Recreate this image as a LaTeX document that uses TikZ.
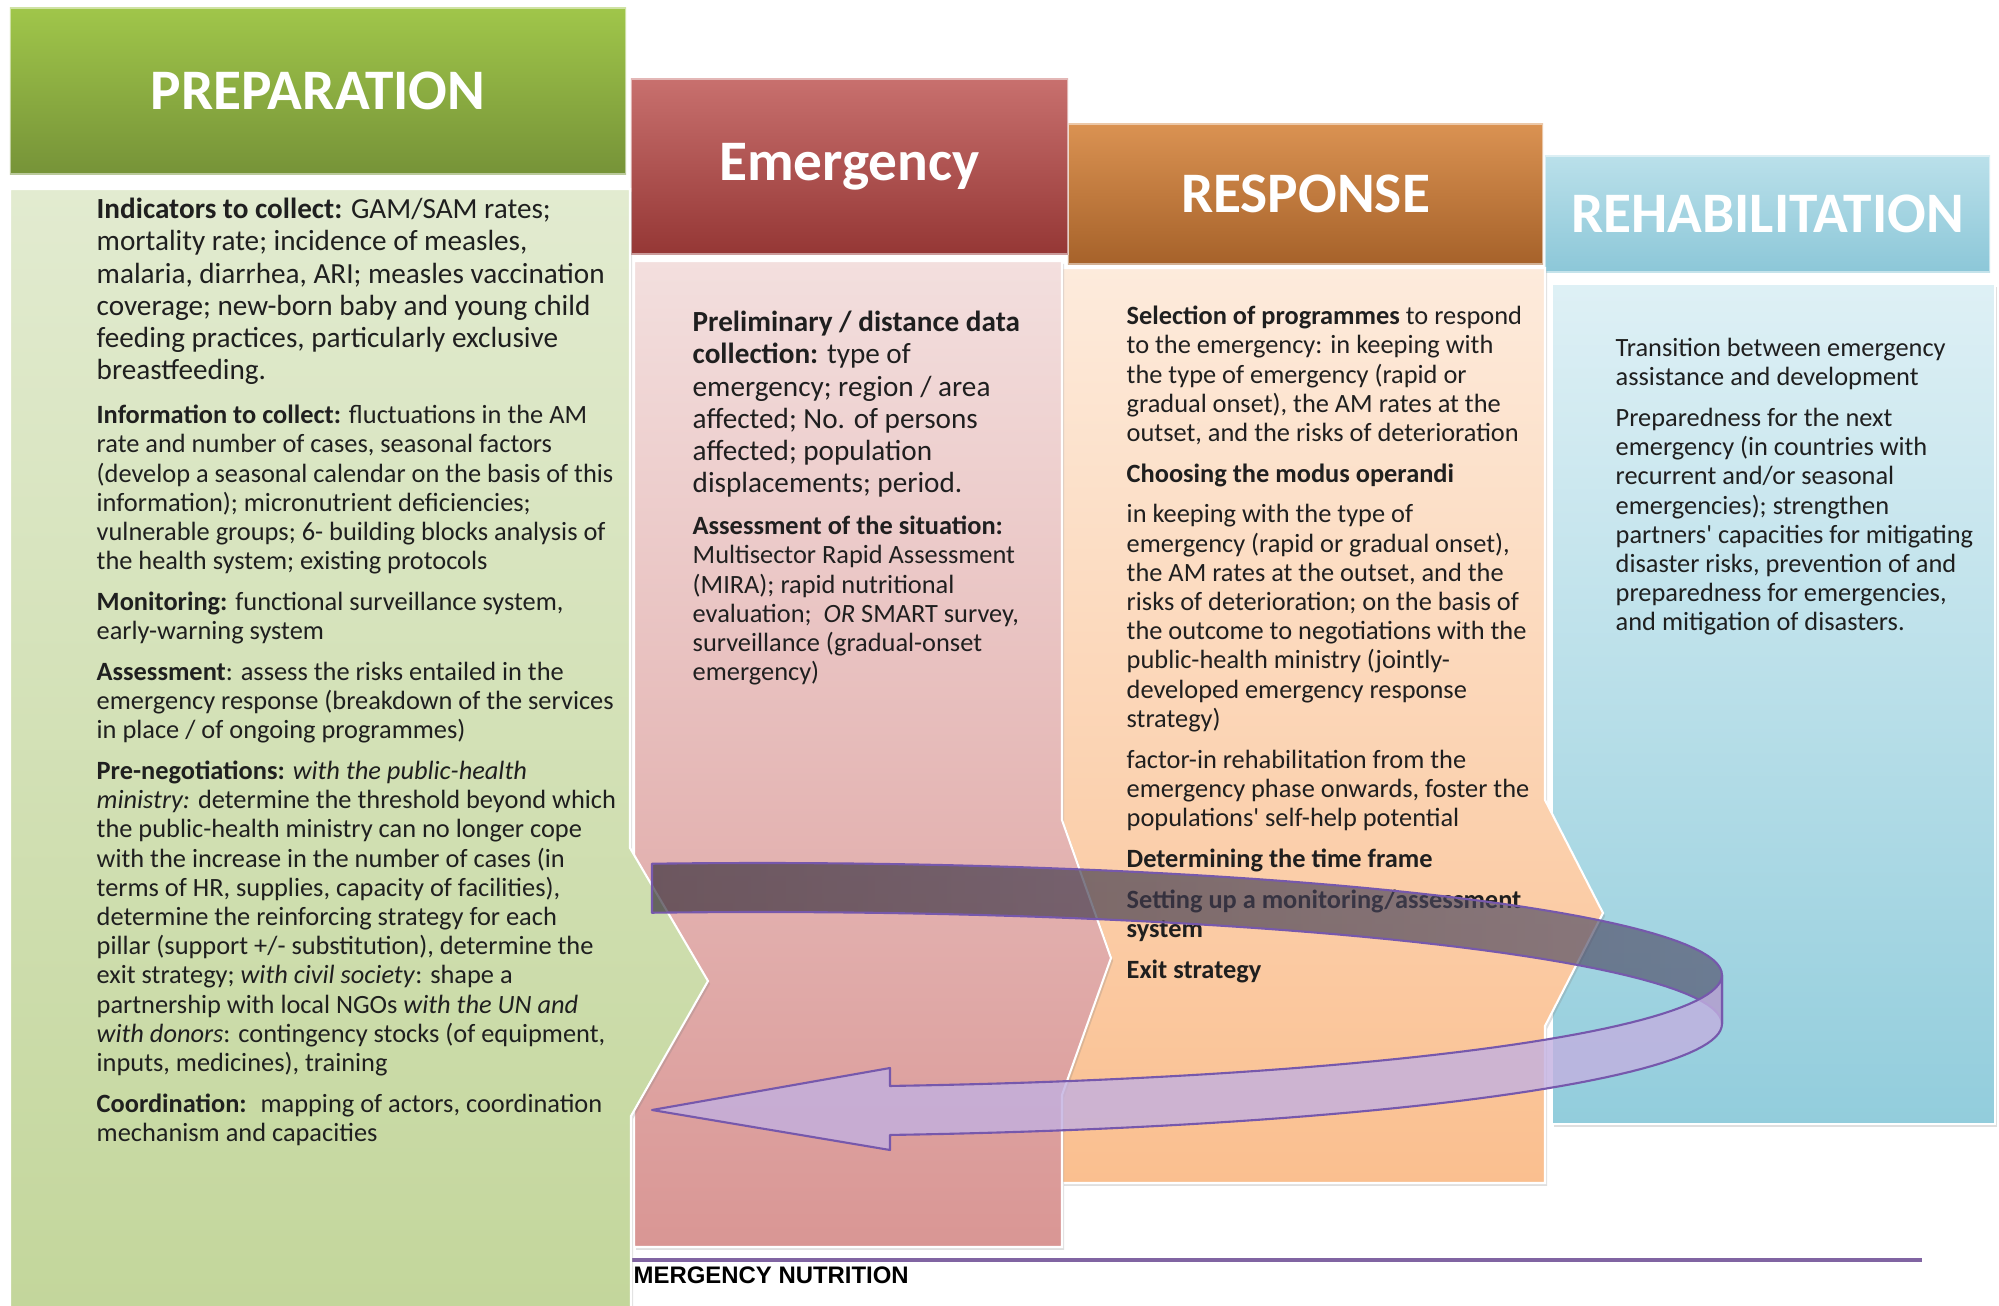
\documentclass[tikz,border=0pt]{standalone}
\usepackage{fontspec}
\setmainfont{Carlito}
\newfontfamily\footfont{Liberation Sans}
\usetikzlibrary{shadows}

\definecolor{prepTop}{RGB}{160,198,74}
\definecolor{prepBot}{RGB}{118,147,56}
\definecolor{prepBodyTop}{RGB}{226,235,208}
\definecolor{prepBodyBot}{RGB}{195,214,155}
\definecolor{emerTop}{RGB}{200,112,110}
\definecolor{emerBot}{RGB}{149,55,53}
\definecolor{emerBodyTop}{RGB}{243,223,222}
\definecolor{emerBodyBot}{RGB}{217,150,148}
\definecolor{respTop}{RGB}{218,146,82}
\definecolor{respBot}{RGB}{166,98,42}
\definecolor{respBodyTop}{RGB}{253,235,220}
\definecolor{respBodyBot}{RGB}{250,191,143}
\definecolor{rehabTop}{RGB}{186,224,234}
\definecolor{rehabBot}{RGB}{140,199,216}
\definecolor{rehabBodyTop}{RGB}{222,240,245}
\definecolor{rehabBodyBot}{RGB}{146,205,220}
\definecolor{bandDark}{RGB}{78,66,86}
\definecolor{bandLight}{RGB}{130,126,170}
\definecolor{bandFront}{RGB}{194,176,224}
\definecolor{bandLine}{RGB}{118,88,172}
\definecolor{ruleLine}{RGB}{128,100,162}

\begin{document}
\begin{tikzpicture}[x=0.01cm, y=-0.01cm,
    head/.style={rectangle, inner sep=0pt, outer sep=0pt, draw=white, draw opacity=0.5, line width=0.5pt, text=white, font=\fontsize{16.3}{19}\selectfont\bfseries},
    panel/.style={draw=white, line width=0.6pt, drop shadow={opacity=0.25, shadow xshift=0.6pt, shadow yshift=-0.8pt}},
    txt/.style={anchor=north west, inner sep=0pt, align=left, text=black!88, font=\fontsize{7.5}{8.3}\selectfont},
    bigtxt/.style={txt, font=\fontsize{8.3}{9.15}\selectfont},
    band/.style={draw=bandLine, line width=0.6pt, line join=round}
]
    \fill[white] (0,0) rectangle (1999,1306);
    \useasboundingbox (0,0) rectangle (1999,1306);

    \node[anchor=west, inner sep=0pt, font=\footfont\fontsize{6.8}{8}\selectfont\bfseries] (foot) at (633,1275) {MERGENCY NUTRITION};
    \draw[ruleLine, line width=0.9pt] (631,1260) coordinate (rl) -- (1922,1260) coordinate (rr);

    \filldraw[panel, top color=rehabBodyTop, bottom color=rehabBodyBot] (1552,284) -- (1995,284) -- (1995,1124) -- (1552,1124) -- cycle;
    \node[head, top color=rehabTop, bottom color=rehabBot, minimum width=4.45cm, minimum height=1.16cm] (rehab) at (1767.5,214) {REHABILITATION};

    \filldraw[panel, top color=respBodyTop, bottom color=respBodyBot] (1062,268) -- (1545,268) -- (1545,800) -- (1603,913) -- (1545,1026) -- (1545,1183) -- (1062,1183) -- cycle;
    \node[head, top color=respTop, bottom color=respBot, minimum width=4.75cm, minimum height=1.40cm] (resp) at (1305.5,194) {RESPONSE};

    \filldraw[panel, top color=emerBodyTop, bottom color=emerBodyBot] (634,261) -- (1062,261) -- (1062,820) -- (1111,958) -- (1062,1095) -- (1062,1247) -- (634,1247) -- cycle;
    \node[head, top color=emerTop, bottom color=emerBot, minimum width=4.37cm, minimum height=1.75cm] (emer) at (849.5,166.5) {Emergency};

    \filldraw[panel, top color=prepBodyTop, bottom color=prepBodyBot] (10,189) -- (630,189) -- (630,848) -- (708,981) -- (631,1116) -- (631,1310) -- (10,1310) -- cycle;
    \node[head, top color=prepTop, bottom color=prepBot, minimum width=6.16cm, minimum height=1.66cm] (prep) at (318,91) {PREPARATION};

    \node[bigtxt] (gind) at (96,195.5) {\strut\textbf{Indicators to collect:} GAM/SAM rates;\\
        mortality rate; incidence of measles,\\
        malaria, diarrhea, ARI; measles vaccination\\
        coverage; new-born baby and young child\\
        feeding practices, particularly exclusive\\
        breastfeeding.};
    \node[txt] (ginfo) at (96,402.5) {\strut\textbf{Information to collect:} fluctuations in the AM\\
        rate and number of cases, seasonal factors\\
        (develop a seasonal calendar on the basis of this\\
        information); micronutrient deficiencies;\\
        vulnerable groups; 6- building blocks analysis of\\
        the health system; existing protocols\\[3.3pt]
        \textbf{Monitoring:} functional surveillance system,\\
        early-warning system\\[3.3pt]
        \textbf{Assessment}: assess the risks entailed in the\\
        emergency response (breakdown of the services\\
        in place / of ongoing programmes)\\[3.3pt]
        \textbf{Pre-negotiations:} \textit{with the public-health}\\
        \textit{ministry:} determine the threshold beyond which\\
        the public-health ministry can no longer cope\\
        with the increase in the number of cases (in\\
        terms of HR, supplies, capacity of facilities),\\
        determine the reinforcing strategy for each\\
        pillar (support +/- substitution), determine the\\
        exit strategy; \textit{with civil society}: shape a\\
        partnership with local NGOs \textit{with the UN and}\\
        \textit{with donors}: contingency stocks (of equipment,\\
        inputs, medicines), training\\[3.3pt]
        \textbf{Coordination:}~ mapping of actors, coordination\\
        mechanism and capacities};

    \node[bigtxt] (eprelim) at (692,308.5) {\strut\textbf{Preliminary / distance data}\\
        \textbf{collection:} type of\\
        emergency; region / area\\
        affected; No. of persons\\
        affected; population\\
        displacements; period.};
    \node[txt] (eassess) at (692,513.5) {\strut\textbf{Assessment of the situation:}\\
        Multisector Rapid Assessment\\
        (MIRA); rapid nutritional\\
        evaluation;~ \textit{OR} SMART survey,\\
        surveillance (gradual-onset\\
        emergency)};

    \node[txt] (rsel) at (1126,303.5) {\strut\textbf{Selection of programmes} to respond\\
        to the emergency: in keeping with\\
        the type of emergency (rapid or\\
        gradual onset), the AM rates at the\\
        outset, and the risks of deterioration\\[3.3pt]
        \textbf{Choosing the modus operandi}\\[3.3pt]
        in keeping with the type of\\
        emergency (rapid or gradual onset),\\
        the AM rates at the outset, and the\\
        risks of deterioration; on the basis of\\
        the outcome to negotiations with the\\
        public-health ministry (jointly-\\
        developed emergency response\\
        strategy)\\[3.3pt]
        factor-in rehabilitation from the\\
        emergency phase onwards, foster the\\
        populations\textquotesingle{} self-help potential\\[3.3pt]
        \textbf{Determining the time frame}\\[3.3pt]
        \textbf{Setting up a monitoring/assessment}\\
        \textbf{system}\\[3.3pt]
        \textbf{Exit strategy}};

    \node[txt] (htrans) at (1615,335.5) {\strut Transition between emergency\\
        assistance and development\\[3.3pt]
        Preparedness for the next\\
        emergency (in countries with\\
        recurrent and/or seasonal\\
        emergencies); strengthen\\
        partners\textquotesingle{} capacities for mitigating\\
        disaster risks, prevention of and\\
        preparedness for emergencies,\\
        and mitigation of disasters.};

    \filldraw[band, left color=bandDark, right color=bandLight, fill opacity=0.42]
        plot[domain=96.45:0, samples=50, variable=\t] ({760+962*cos(\t)},{975-112*sin(\t)})
        -- plot[domain=0:96.45, samples=50, variable=\t] ({760+962*cos(\t)},{1024-112*sin(\t)}) -- cycle;
    \filldraw[band, fill=bandFront, fill opacity=0.8]
        plot[domain=0:-82.23, samples=50, variable=\t] ({760+962*cos(\t)},{975-112*sin(\t)})
        -- (890,1068) coordinate (barb1) -- (652,1110) coordinate (tip) -- (890,1150) coordinate (barb2)
        -- plot[domain=-82.23:0, samples=50, variable=\t] ({760+962*cos(\t)},{1024-112*sin(\t)}) -- cycle;
\end{tikzpicture}
\end{document}
